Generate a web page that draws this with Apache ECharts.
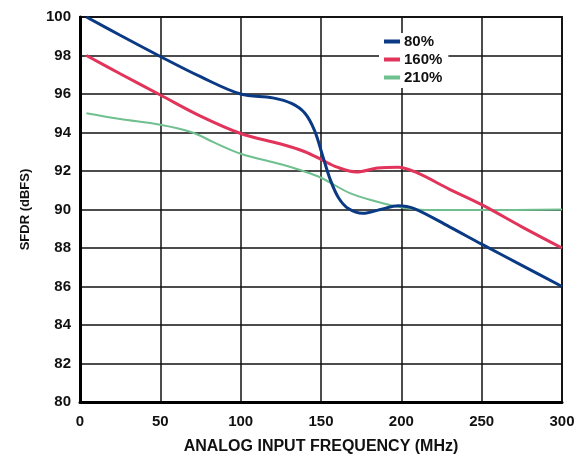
<!DOCTYPE html>
<html><head><meta charset="utf-8">
<script src="https://cdn.jsdelivr.net/npm/echarts@6/dist/echarts.min.js"></script>
<style>html,body{margin:0;padding:0;background:#fff}#c{width:584px;height:456px}</style>
</head><body><div id="c"></div>
<script>
const xTicks = [0, 50, 100, 150, 200, 250, 300];
const yTicks = [80, 82, 84, 86, 88, 90, 92, 94, 96, 98, 100];

const freq80 = [4, 25, 50, 75, 100, 120, 132, 140, 146, 151, 156, 161, 167, 176, 187, 198, 208, 230, 250, 275, 300];
const sfdr80 = [100, 99.05, 97.95, 96.9, 96.0, 95.8, 95.5, 95.0, 94.1, 92.8, 91.5, 90.6, 90.05, 89.8, 90.0, 90.2, 90.05, 89.1, 88.2, 87.1, 86.0];

const freq160 = [4, 25, 50, 75, 100, 125, 140, 150, 160, 172, 185, 198, 210, 230, 250, 275, 300];
const sfdr160 = [98, 97.05, 95.95, 94.85, 93.95, 93.4, 93.0, 92.6, 92.2, 91.95, 92.15, 92.2, 91.9, 91.05, 90.25, 89.1, 88.0];

const freq210 = [4, 25, 50, 70, 83, 100, 125, 137, 150, 168, 185, 197, 210, 220, 250, 300];
const sfdr210 = [95, 94.7, 94.4, 94.0, 93.5, 92.9, 92.35, 92.05, 91.65, 90.85, 90.4, 90.15, 90.0, 89.97, 89.97, 90.0];

const seriesNames = ['80%', '160%', '210%'];
const seriesColors = ['#0b3a85', '#e2345a', '#6fbf8f'];

const zip = (xs, ys) => xs.map((x, i) => [x, ys[i]]);

const chart = echarts.init(document.getElementById('c'));
const font = 'Liberation Sans, Arial, sans-serif';
chart.setOption({
  animation: false,
  grid: { left: 80, top: 17, width: 482, height: 385, show: true, borderColor: '#222', borderWidth: 2,
    containLabel: false, outerBoundsMode: 'none' },
  legend: {
    orient: 'vertical', left: 379, top: 33, padding: [1, 6, 3, 5], itemGap: 3,
    backgroundColor: '#fff', itemWidth: 16, itemHeight: 4, icon: 'rect',
    textStyle: { fontFamily: font, fontWeight: 'bold', fontSize: 15, color: '#111', padding: [0, 0, 0, -1] },
    data: seriesNames
  },
  xAxis: {
    type: 'value', min: 0, max: 300, interval: 50,
    name: 'ANALOG INPUT FREQUENCY (MHz)', nameLocation: 'middle', nameGap: 37,
    nameTextStyle: { fontFamily: font, fontWeight: 'bold', fontSize: 16, color: '#111' },
    axisLine: { show: true, onZero: false, lineStyle: { color: '#000', width: 3 } },
    axisTick: { show: false },
    axisLabel: { fontFamily: font, fontWeight: 'bold', fontSize: 15, color: '#111', margin: 12,
      formatter: v => xTicks.includes(v) ? String(v) : '' },
    splitLine: { show: true, lineStyle: { color: '#111', width: 1.5 } }
  },
  yAxis: {
    type: 'value', min: 80, max: 100, interval: 2,
    name: 'SFDR (dBFS)', nameLocation: 'middle', nameGap: 48, nameRotate: 90,
    nameTextStyle: { fontFamily: font, fontWeight: 'bold', fontSize: 13, color: '#111' },
    axisLine: { show: true, onZero: false, lineStyle: { color: '#000', width: 3 } },
    axisTick: { show: false },
    axisLabel: { fontFamily: font, fontWeight: 'bold', fontSize: 15, color: '#111', margin: 9,
      formatter: v => yTicks.includes(v) ? String(v) : '' },
    splitLine: { show: true, lineStyle: { color: '#111', width: 1.5 } }
  },
  series: [
    { name: seriesNames[0], type: 'line', data: zip(freq80, sfdr80), smooth: 0.35, showSymbol: false,
      lineStyle: { color: seriesColors[0], width: 3 }, itemStyle: { color: seriesColors[0] }, z: 4 },
    { name: seriesNames[1], type: 'line', data: zip(freq160, sfdr160), smooth: 0.35, showSymbol: false,
      lineStyle: { color: seriesColors[1], width: 3 }, itemStyle: { color: seriesColors[1] }, z: 3 },
    { name: seriesNames[2], type: 'line', data: zip(freq210, sfdr210), smooth: 0.35, showSymbol: false,
      lineStyle: { color: seriesColors[2], width: 2 }, itemStyle: { color: seriesColors[2] }, z: 2 }
  ]
});
</script></body></html>
